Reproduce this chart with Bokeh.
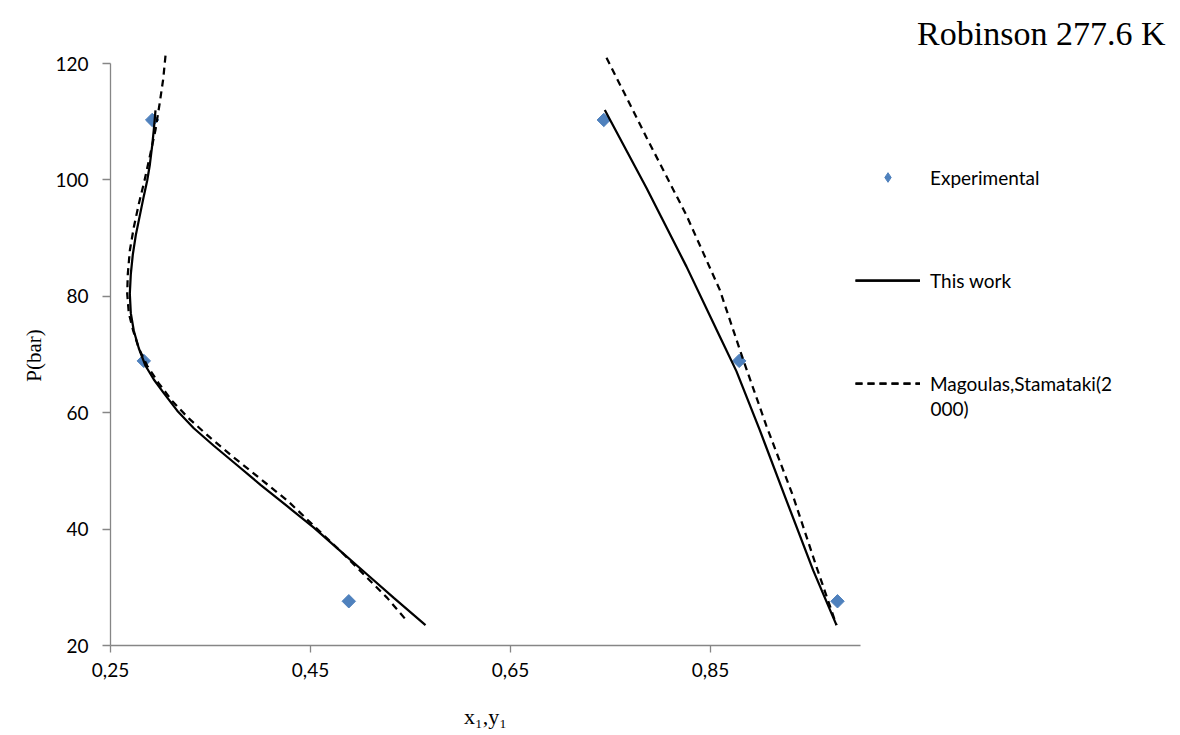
import math
from bokeh.plotting import figure
from bokeh.models import FixedTicker, Legend, LegendItem, Label, Range1d, ColumnDataSource
from bokeh.embed import file_html
from bokeh.resources import INLINE

# ---- data ----
exp_x = [0.2917, 0.2833, 0.4883, 0.7433, 0.8787, 0.977]
exp_p = [110.3, 68.9, 27.6, 110.3, 68.9, 27.6]

# "This work" - liquid branch
tw_liq_x = [0.295, 0.2933, 0.2917, 0.2893, 0.2867, 0.2833, 0.2793, 0.2753, 0.2723, 0.2703,
            0.2693, 0.2703, 0.2733, 0.2783, 0.285, 0.2933, 0.3033, 0.3167, 0.3333, 0.3533,
            0.3767, 0.400, 0.4267, 0.4533, 0.480, 0.5067, 0.5333, 0.565]
tw_liq_p = [111.96, 108.61, 105.92, 102.57, 99.89, 97.21, 93.86, 90.51, 87.16, 83.81,
            80.46, 77.10, 74.09, 71.07, 68.06, 65.71, 63.36, 60.35, 57.33, 54.32,
            50.97, 47.61, 43.93, 40.24, 36.22, 32.20, 28.18, 23.49]
# "This work" - vapour branch
tw_vap_x = [0.7443, 0.786, 0.826, 0.8593, 0.876, 0.8993, 0.926, 0.9527, 0.976]
tw_vap_p = [112.0, 98.6, 85.1, 73.1, 67.1, 57.0, 44.9, 32.9, 23.5]

# Magoulas, Stamataki (2000) - liquid branch
ms_liq_x = [0.305, 0.3027, 0.2993, 0.295, 0.290, 0.284, 0.2783, 0.2733, 0.2693, 0.2673,
            0.2667, 0.2683, 0.2727, 0.2783, 0.2867, 0.2983, 0.3117, 0.3283, 0.350, 0.3733,
            0.400, 0.4267, 0.4533, 0.480, 0.5033, 0.5267, 0.5467]
ms_liq_p = [121.34, 117.32, 113.30, 108.61, 104.58, 99.89, 95.87, 91.85, 87.83, 83.81,
            80.46, 77.10, 74.09, 71.07, 68.06, 65.04, 62.02, 59.01, 55.66, 52.31,
            48.62, 44.93, 40.58, 36.22, 32.20, 28.18, 24.16]
# Magoulas, Stamataki (2000) - vapour branch
ms_vap_x = [0.746, 0.786, 0.826, 0.8593, 0.8827, 0.906, 0.9327, 0.956, 0.976]
ms_vap_p = [121.0, 107.3, 93.9, 81.1, 69.1, 57.7, 45.6, 33.5, 23.5]

x_ticks = [0.25, 0.45, 0.65, 0.85]
x_tick_labels = ["0,25", "0,45", "0,65", "0,85"]
y_ticks = [20, 40, 60, 80, 100, 120]
x_axis_bounds = (0.25, 1.0)
y_axis_bounds = (20, 120)

title_text = "Robinson 277.6 K"
x_title = "x\u2081,y\u2081"
y_title = "P(bar)"
legend_labels = ["Experimental", "This work", "Magoulas,Stamataki(2"]
legend_wrap = "000)"

SANS = "Lato"
SERIF = "Liberation Serif"
AXIS_GRAY = "#868686"
BLUE = "#4F81BD"

W, H = 1180, 735
X_PX = 1000.0      # px per x unit
Y_PX = 5.82        # px per bar
X_MIN = x_axis_bounds[0] - 110 / X_PX
Y_MIN = y_axis_bounds[0] - 90 / Y_PX

# The frame covers the whole canvas; axes are pinned at fixed data locations
p = figure(width=W, height=H, output_backend="svg", toolbar_location=None,
           x_range=Range1d(X_MIN, X_MIN + W / X_PX),
           y_range=Range1d(Y_MIN, Y_MIN + H / Y_PX),
           min_border=0)
p.outline_line_color = None
p.xgrid.visible = False
p.ygrid.visible = False
p.background_fill_color = "white"
p.border_fill_color = "white"

exp_src = ColumnDataSource(dict(x=exp_x, p=exp_p))
# small diamonds (fully covered by the rotated squares) give the legend its diamond key,
# since legends never rotate markers
exp_key = p.scatter("x", "p", source=exp_src, marker="diamond", size=6,
                    fill_color=BLUE, line_color=BLUE)
exp_r = p.scatter("x", "p", source=exp_src, marker="square", size=9.5, angle=math.pi / 4,
                  fill_color=BLUE, line_color=BLUE)
tw1 = p.line(tw_liq_x, tw_liq_p, line_color="black", line_width=2.25)
tw2 = p.line(tw_vap_x, tw_vap_p, line_color="black", line_width=2.25)
ms1 = p.line(ms_liq_x, ms_liq_p, line_color="black", line_width=2.25, line_dash="7 5")
ms2 = p.line(ms_vap_x, ms_vap_p, line_color="black", line_width=2.25, line_dash="7 5")

for ax in (p.xaxis[0], p.yaxis[0]):
    ax.axis_line_color = AXIS_GRAY
    ax.axis_line_width = 1.3
    ax.major_tick_line_color = AXIS_GRAY
    ax.major_tick_line_width = 1.3
    ax.minor_tick_line_color = None
    ax.major_tick_in = 0
    ax.major_label_text_font = SANS
    ax.major_label_text_font_size = "19px"
    ax.major_label_text_color = "black"

xa = p.xaxis[0]
xa.ticker = FixedTicker(ticks=x_ticks)
xa.bounds = x_axis_bounds
xa.fixed_location = y_axis_bounds[0]
xa.major_label_overrides = {t: l for t, l in zip(x_ticks, x_tick_labels)}
xa.major_tick_out = 7
xa.major_label_standoff = 10

ya = p.yaxis[0]
ya.ticker = FixedTicker(ticks=y_ticks)
ya.bounds = y_axis_bounds
ya.fixed_location = x_axis_bounds[0]
ya.major_tick_out = 8
ya.major_label_standoff = 14

p.add_layout(Label(x=485, y=H - 716, x_units="screen", y_units="screen", text=x_title,
                   text_align="center", text_baseline="middle", text_font=SERIF,
                   text_font_size="22px", text_color="black"))
p.add_layout(Label(x=33, y=H - 355, x_units="screen", y_units="screen", text=y_title,
                   angle=math.pi / 2, text_align="center", text_baseline="middle",
                   text_font=SERIF, text_font_size="21px", text_color="black"))

legend = Legend(items=[
    LegendItem(label=legend_labels[0], renderers=[exp_key]),
    LegendItem(label=legend_labels[1], renderers=[tw1, tw2]),
    LegendItem(label=legend_labels[2], renderers=[ms1, ms2]),
], location=(855, H - 395))
legend.border_line_color = None
legend.background_fill_alpha = 0
legend.padding = 0
legend.margin = 0
legend.glyph_width = 65
legend.glyph_height = 24
legend.label_height = 24
legend.label_standoff = 10
legend.spacing = 79
legend.label_text_font = SANS
legend.label_text_font_size = "19px"
legend.label_text_color = "black"
p.add_layout(legend, "center")

p.add_layout(Label(x=930, y=H - 408, x_units="screen", y_units="screen", text=legend_wrap,
                   text_align="left", text_baseline="middle", text_font=SANS,
                   text_font_size="19px", text_color="black"))

p.add_layout(Label(x=1165, y=H - 33, x_units="screen", y_units="screen", text=title_text,
                   text_align="right", text_baseline="middle", text_font=SERIF,
                   text_font_size="34px", text_color="black"))

open("out.html", "w").write(file_html(p, INLINE))
